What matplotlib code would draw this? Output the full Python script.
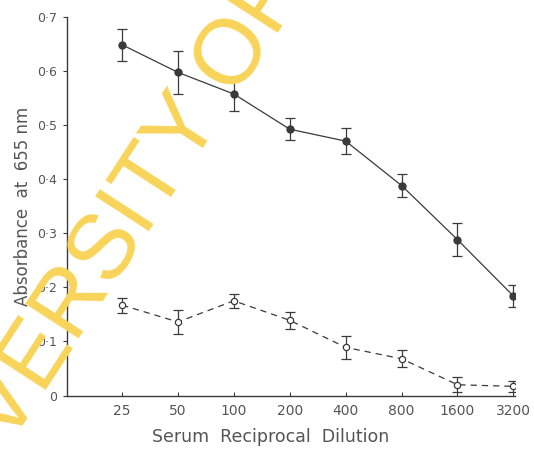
import numpy as np
import matplotlib
import matplotlib.pyplot as plt

matplotlib.use("Agg")

dilutions = ["25", "50", "100", "200", "400", "800", "1600", "3200"]

closed_mean = [0.648, 0.597, 0.557, 0.492, 0.470, 0.388, 0.288, 0.184]
closed_err = [0.030, 0.040, 0.032, 0.020, 0.024, 0.022, 0.030, 0.020]

open_mean = [0.167, 0.136, 0.175, 0.139, 0.089, 0.068, 0.020, 0.017]
open_err = [0.014, 0.022, 0.013, 0.016, 0.021, 0.016, 0.014, 0.010]

y_ticks = [0, 0.1, 0.2, 0.3, 0.4, 0.5, 0.6, 0.7]

ink = "#3a3a3a"
text_col = "#555555"
yellow = "#f8d45a"

fig = plt.figure(figsize=(5.34, 4.49), dpi=100)
ax = fig.add_axes([0.1255, 0.119, 0.839, 0.844])

x = np.arange(len(dilutions))

ax.errorbar(x, closed_mean, yerr=closed_err, color=ink, lw=0.9,
            marker="o", ms=5, mfc=ink, mec=ink,
            elinewidth=0.9, capsize=3.5, capthick=0.9)
ax.errorbar(x, open_mean, yerr=open_err, color=ink, lw=0.9, ls=(0, (5, 4)),
            marker="o", ms=4.5, mfc="white", mec=ink, mew=0.9,
            elinewidth=0.9, capsize=3.5, capthick=0.9)

ax.set_xlim(-0.985, 7.03)
ax.set_ylim(0, 0.7)
ax.set_xticks(x)
ax.set_xticklabels(dilutions)
ax.set_yticks(y_ticks)
ax.set_yticklabels(["0" if v == 0 else f"{v:.1f}".replace(".", "\u00b7") for v in y_ticks])

for side in ["top", "right"]:
    ax.spines[side].set_visible(False)
for side in ["left", "bottom"]:
    ax.spines[side].set_color(ink)
    ax.spines[side].set_linewidth(1.0)

ax.tick_params(axis="x", direction="in", length=3, color=ink, labelsize=10,
               labelcolor=text_col, pad=6)
ax.tick_params(axis="y", direction="out", length=3, color=ink, labelsize=9,
               labelcolor=text_col, pad=4)

ax.set_xlabel("Serum  Reciprocal  Dilution", fontsize=12.5, color=text_col)
ax.xaxis.label.set_va("center")
ax.xaxis.set_label_coords(0.455, -0.109)
ax.set_ylabel("Absorbance  at  655 nm", fontsize=12, color=text_col, labelpad=4)

# yellow watermark across the scan
fig.text(114.5 / 534, 1 - 286 / 449, "UNIVERSITY OF", family="Liberation Sans",
         fontsize=66, color=yellow, rotation=57,
         rotation_mode="anchor", ha="center", va="baseline", zorder=10)

fig.savefig("out.png", dpi=100)
